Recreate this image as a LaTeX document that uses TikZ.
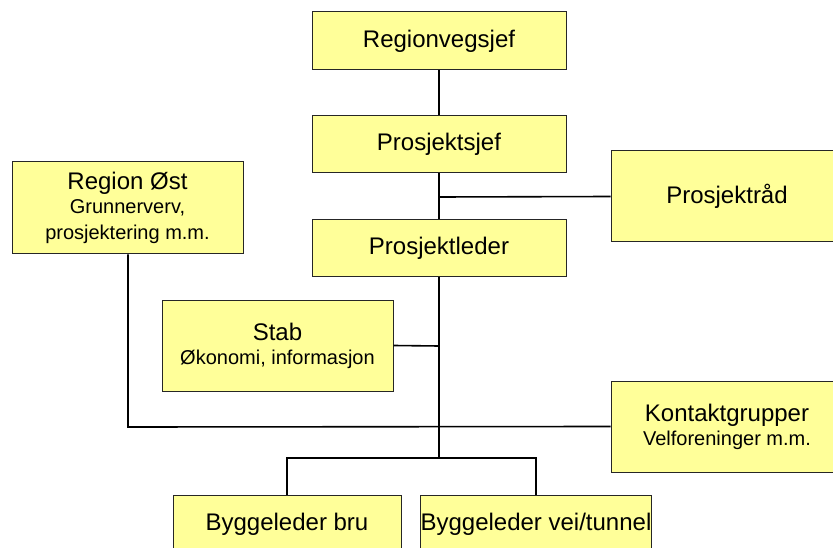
\documentclass[tikz,border=0pt]{standalone}
\usepackage{fontspec}
\setmainfont{Liberation Sans}
\definecolor{boxfill}{HTML}{FFFF99}
\begin{document}
\begin{tikzpicture}[x=1pt,y=-1pt,
  box/.style={draw=black!85, line width=1pt, fill=boxfill, inner sep=0pt, align=center,
    font=\fontsize{24}{27}\selectfont},
  conn/.style={line width=1.6pt, black}]
\useasboundingbox (0,0) rectangle (833,548);
\clip (0,0) rectangle (833,548);
\fill[white] (0,0) rectangle (833,548);
\node[box, minimum width=254, minimum height=58] (rvs) at (439,41) {Regionvegsjef};
\node[box, minimum width=254, minimum height=57] (ps) at (439,144.5) {Prosjektsjef};
\node[box, minimum width=254, minimum height=57] (pl) at (439,248.5) {Prosjektleder};
\node[box, minimum width=232, minimum height=91] (pr) at (727,196.5) {Prosjektråd};
\node[box, minimum width=232, minimum height=91] (kg) at (727,426.5) {Kontaktgrupper\\[-3pt]{\fontsize{20}{24}\selectfont Velforeninger m.m.}};
\node[box, minimum width=231, minimum height=92] (ro) at (127.5,208) {Region Øst\\[-3pt]{\fontsize{20}{24}\selectfont Grunnerverv,}\\[-1pt]{\fontsize{20}{24}\selectfont prosjektering m.m.}};
\node[box, minimum width=231, minimum height=91] (st) at (277.5,345.5) {Stab\\[-3pt]{\fontsize{20}{24}\selectfont Økonomi, informasjon}};
\node[box, minimum width=228, minimum height=58] (bb) at (287,524) {Byggeleder bru};
\node[box, minimum width=228, minimum height=58] (bv) at (536,524) {Byggeleder vei/tunnel};
\coordinate (j1) at (439,197);
\coordinate (j2) at (439,346);
\coordinate (j3) at (439,427);
\coordinate (j4) at (439,458);
\coordinate (c1) at (128,427);
\draw[conn] (rvs.south) -- (ps.north);
\draw[conn] (ps.south) -- (pl.north);
\draw[conn] (j1) -- (pr.west);
\draw[conn] (pl.south) -- (j4);
\draw[conn] (st.east) -- (j2);
\draw[conn] (ro.south -| c1) -- (c1) -- (kg.west);
\draw[conn] (bb.north) |- (j4) -| (bv.north);
\end{tikzpicture}
\end{document}
